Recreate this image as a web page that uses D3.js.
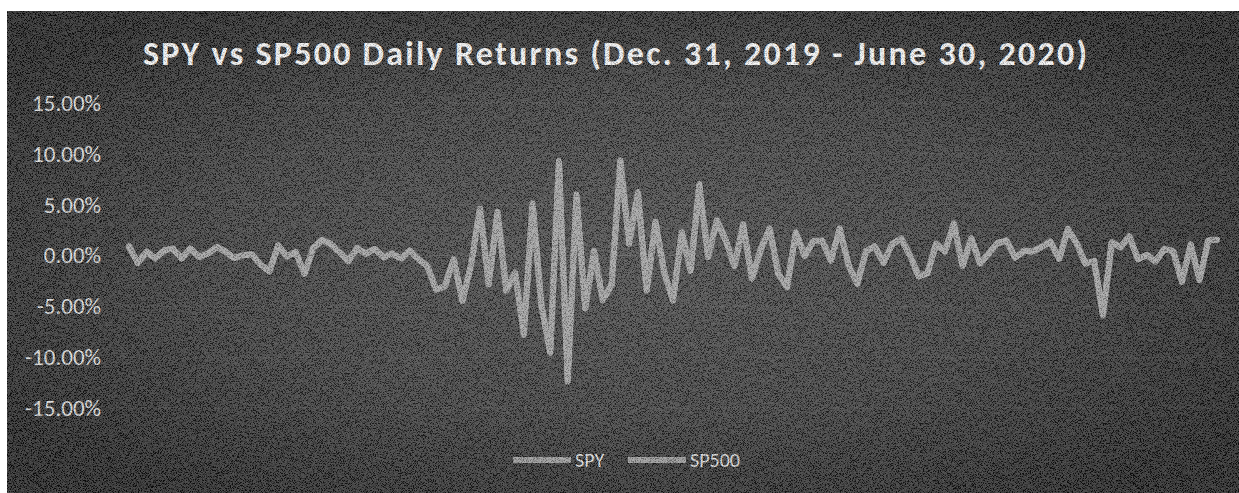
<!DOCTYPE html>
<html>
<head>
<meta charset="utf-8">
<script src="https://cdn.jsdelivr.net/npm/d3@7"></script>
<style>
  body { margin: 0; background: #fff; }
  svg { display: block; }
</style>
</head>
<body>
<div id="chart"></div>
<script>
// trading days, Jan 2 - June 30, 2020
var dates = [
  "1/2","1/3","1/6","1/7","1/8","1/9","1/10","1/13","1/14","1/15","1/16","1/17","1/21","1/22","1/23","1/24","1/27","1/28","1/29","1/30","1/31",
  "2/3","2/4","2/5","2/6","2/7","2/10","2/11","2/12","2/13","2/14","2/18","2/19","2/20","2/21","2/24","2/25","2/26","2/27","2/28",
  "3/2","3/3","3/4","3/5","3/6","3/9","3/10","3/11","3/12","3/13","3/16","3/17","3/18","3/19","3/20","3/23","3/24","3/25","3/26","3/27","3/30","3/31",
  "4/1","4/2","4/3","4/6","4/7","4/8","4/9","4/13","4/14","4/15","4/16","4/17","4/20","4/21","4/22","4/23","4/24","4/27","4/28","4/29","4/30",
  "5/1","5/4","5/5","5/6","5/7","5/8","5/11","5/12","5/13","5/14","5/15","5/18","5/19","5/20","5/21","5/22","5/26","5/27","5/28","5/29",
  "6/1","6/2","6/3","6/4","6/5","6/8","6/9","6/10","6/11","6/12","6/15","6/16","6/17","6/18","6/19","6/22","6/23","6/24","6/25","6/26","6/29","6/30"
];

// daily returns in %
var sp500 = [
  0.84,-0.71,0.35,-0.28,0.49,0.67,-0.29,0.70,-0.15,0.19,0.84,0.39,-0.27,0.03,0.11,-0.90,-1.57,1.01,-0.09,0.31,-1.77,
  0.73,1.50,1.13,0.33,-0.54,0.73,0.17,0.65,-0.16,0.18,-0.29,0.47,-0.38,-1.05,-3.35,-3.03,-0.38,-4.42,-0.82,
  4.60,-2.81,4.22,-3.39,-1.71,-7.60,4.94,-4.89,-9.51,9.29,-11.98,6.00,-5.18,0.47,-4.34,-2.93,9.38,1.15,6.24,-3.37,3.35,-1.60,
  -4.41,2.28,-1.51,7.03,-0.16,3.41,1.45,-1.01,3.06,-2.20,0.58,2.68,-1.79,-3.07,2.29,-0.05,1.39,1.47,-0.52,2.66,-0.92,
  -2.81,0.42,0.90,-0.70,1.15,1.69,0.01,-2.05,-1.75,1.15,0.39,3.15,-1.05,1.67,-0.78,0.24,1.23,1.48,-0.21,0.48,
  0.38,0.82,1.36,-0.34,2.62,1.20,-0.78,-0.53,-5.89,1.31,0.83,1.90,-0.36,0.06,-0.56,0.65,0.43,-2.59,1.10,-2.42,1.47,1.54
];
var spy = [
  0.94,-0.76,0.38,-0.28,0.49,0.68,-0.29,0.69,-0.15,0.19,0.84,0.37,-0.25,0.01,0.12,-0.90,-1.56,1.00,-0.09,0.35,-1.80,
  0.75,1.53,1.15,0.31,-0.55,0.74,0.17,0.66,-0.16,0.19,-0.29,0.50,-0.37,-1.06,-3.36,-3.03,-0.38,-4.49,-0.86,
  4.60,-2.85,4.30,-3.46,-1.67,-7.81,5.17,-4.87,-9.57,9.06,-12.40,5.68,-5.20,0.36,-4.41,-2.85,9.06,1.20,6.04,-3.45,3.22,-1.69,
  -4.42,2.28,-1.47,6.71,-0.11,3.46,1.56,-1.02,3.02,-2.28,0.58,2.65,-1.79,-3.11,2.26,-0.02,1.43,1.45,-0.45,2.62,-0.90,
  -2.78,0.42,0.89,-0.70,1.10,1.67,0.01,-2.04,-1.73,1.16,0.41,3.09,-0.99,1.68,-0.78,0.21,1.22,1.47,-0.20,0.46,
  0.40,0.84,1.38,-0.34,2.55,1.20,-0.80,-0.53,-5.76,1.28,0.81,1.86,-0.37,0.05,-0.59,0.63,0.43,-2.56,1.08,-2.42,1.48,1.56
];

var yTicks = [-15, -10, -5, 0, 5, 10, 15];
var seriesNames = ["SPY", "SP500"];

var width = 1239, height = 493;
var fontFam = "Carlito, Lato, 'Open Sans', sans-serif";

var svg = d3.select("#chart")
  .append("svg")
    .attr("width", width)
    .attr("height", height);

var defs = svg.append("defs");

// dark radial background
var grad = defs.append("radialGradient")
    .attr("id", "bg")
    .attr("cx", "50%").attr("cy", "50%").attr("r", "62%");
grad.append("stop").attr("offset", "0%").attr("stop-color", "#3a3a3a");
grad.append("stop").attr("offset", "55%").attr("stop-color", "#2a2a2a");
grad.append("stop").attr("offset", "100%").attr("stop-color", "#0e0e0e");

// grainy texture
var grain = defs.append("filter")
    .attr("id", "grain")
    .attr("x", 0).attr("y", 0).attr("width", "100%").attr("height", "100%");
grain.append("feTurbulence")
    .attr("type", "fractalNoise")
    .attr("baseFrequency", 1.4)
    .attr("numOctaves", 1)
    .attr("seed", 7)
    .attr("result", "n");
grain.append("feColorMatrix")
    .attr("in", "n")
    .attr("type", "matrix")
    .attr("values", "4 0 0 0 -1.5  4 0 0 0 -1.5  4 0 0 0 -1.5  0 0 0 0 0.26");

svg.append("rect")
    .attr("x", 7).attr("y", 11)
    .attr("width", width - 7).attr("height", height - 11)
    .attr("fill", "url(#bg)");

// scales
var x = d3.scalePoint()
    .domain(dates)
    .range([129, 1217]);

var y = d3.scaleLinear()
    .domain([-15, 15])
    .range([408, 103]);

// gridlines
svg.append("g")
  .selectAll("line")
  .data(yTicks)
  .enter()
  .append("line")
    .attr("x1", 112).attr("x2", 1228)
    .attr("y1", function(d) { return y(d); })
    .attr("y2", function(d) { return y(d); })
    .attr("stroke", "#ffffff")
    .attr("stroke-opacity", 0.07)
    .attr("stroke-width", 1);

// y axis
var yAxis = svg.append("g")
    .attr("transform", "translate(103,0)")
    .call(d3.axisLeft(y)
      .tickValues(yTicks)
      .tickSize(0)
      .tickPadding(2)
      .tickFormat(function(d) { return d.toFixed(2) + "%"; }));
yAxis.select(".domain").remove();
yAxis.selectAll("text")
    .attr("fill", "#d9d9d9")
    .style("font-family", fontFam)
    .style("font-size", "23px");

// lines
var line = d3.line()
    .x(function(d, i) { return x(dates[i]); })
    .y(function(d) { return y(d); });

[spy, sp500].forEach(function(s) {
  svg.append("path")
      .datum(s)
      .attr("d", line)
      .attr("fill", "none")
      .attr("stroke", "#9a9a9a")
      .attr("stroke-width", 6)
      .attr("stroke-linejoin", "round")
      .attr("stroke-linecap", "round");
});

// title
var title = svg.append("text")
    .attr("x", 615)
    .attr("y", 65)
    .attr("text-anchor", "middle")
    .attr("fill", "#f5f5f5")
    .style("font-family", fontFam)
    .style("font-weight", "bold")
    .style("font-size", "34px")
    .text("SPY vs SP500 Daily Returns (Dec. 31, 2019 - June 30, 2020)");
title.attr("textLength", 944).attr("lengthAdjust", "spacing");

// legend
var legendX = [513, 628];
seriesNames.forEach(function(name, i) {
  svg.append("line")
      .attr("x1", legendX[i]).attr("x2", legendX[i] + 58)
      .attr("y1", 460).attr("y2", 460)
      .attr("stroke", "#8f8f8f")
      .attr("stroke-width", 6);
  svg.append("text")
      .attr("x", legendX[i] + 62)
      .attr("y", 460)
      .attr("dy", "0.35em")
      .attr("fill", "#d9d9d9")
      .style("font-family", fontFam)
      .style("font-size", "20px")
      .text(name);
});

// grain over everything
svg.append("rect")
    .attr("x", 7).attr("y", 11)
    .attr("width", width - 7).attr("height", height - 11)
    .attr("filter", "url(#grain)")
    .style("pointer-events", "none");
</script>
</body>
</html>
